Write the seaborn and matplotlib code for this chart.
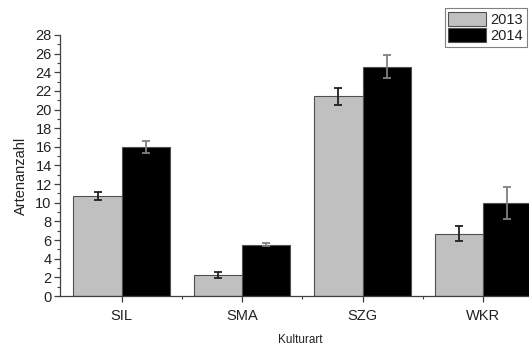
import matplotlib
matplotlib.use("Agg")
import matplotlib.pyplot as plt
import seaborn as sns
import pandas as pd
import numpy as np
from matplotlib.ticker import MultipleLocator, FixedLocator

categories = ["SIL", "SMA", "SZG", "WKR"]
years = ["2013", "2014"]
values_2013 = [10.7, 2.25, 21.4, 6.7]
values_2014 = [16.0, 5.5, 24.6, 10.0]
err_2013 = [0.45, 0.35, 0.9, 0.85]
err_2014 = [0.65, 0.15, 1.2, 1.7]

df = pd.DataFrame({
    "Kulturart": categories * 2,
    "Jahr": [years[0]] * 4 + [years[1]] * 4,
    "Artenanzahl": values_2013 + values_2014,
})

sns.set_style("ticks")
plt.rcParams["font.family"] = ["Liberation Sans", "DejaVu Sans"]

fig = plt.figure(figsize=(5.29, 3.46), dpi=100)
ax = fig.add_axes([0.1134, 0.1445, 0.8866 + 0.02, 0.7545])

palette = {"2013": "#c0c0c0", "2014": "#000000"}
sns.barplot(data=df, x="Kulturart", y="Artenanzahl", hue="Jahr",
            palette=palette, width=0.8, errorbar=None, ax=ax,
            edgecolor="#505050", linewidth=0.8, saturation=1)

# error bars from bar positions
for cont, errs, ecol in zip(ax.containers, [err_2013, err_2014], ["#202020", "#808080"]):
    xs = [b.get_x() + b.get_width() / 2 for b in cont]
    hs = [b.get_height() for b in cont]
    ax.errorbar(xs, hs, yerr=errs, fmt="none", ecolor=ecol,
                elinewidth=1.3, capsize=3, capthick=1.3, zorder=5)

ax.set_ylim(0, 28)
ax.set_xlim(-0.512, 3.47)
ax.yaxis.set_major_locator(MultipleLocator(2))
ax.yaxis.set_minor_locator(MultipleLocator(1))
ax.xaxis.set_minor_locator(FixedLocator([0.5, 1.5, 2.5]))

for s in ["top", "right"]:
    ax.spines[s].set_visible(False)
for s in ["left", "bottom"]:
    ax.spines[s].set_color("#404040")
    ax.spines[s].set_linewidth(0.9)

ax.tick_params(axis="y", which="major", labelsize=10.5, pad=2)
ax.tick_params(axis="x", which="major", labelsize=10.5, pad=5)
ax.tick_params(axis="both", which="major", colors="#404040",
               labelcolor="#222222", length=4, width=0.9, direction="out")
ax.tick_params(axis="both", which="minor", length=2.5, width=0.8, colors="#404040")

ax.set_xlabel("Kulturart", fontsize=8.5, color="#222222", labelpad=8)
ax.set_ylabel("Artenanzahl", fontsize=10.5, color="#222222", labelpad=3)
ax.yaxis.set_label_coords(-0.066, 0.46)

leg = ax.legend(loc="upper right", bbox_to_anchor=(0.996, 0.977),
                bbox_transform=fig.transFigure,
                frameon=True, fancybox=False, fontsize=10.5,
                handlelength=2.6, handleheight=1.1, handletextpad=0.3,
                borderpad=0.25, labelspacing=0.12, borderaxespad=0)
leg.get_frame().set_edgecolor("#606060")
leg.get_frame().set_linewidth(0.8)
for t in leg.get_texts():
    t.set_color("#222222")

fig.savefig("out.png", dpi=100)
